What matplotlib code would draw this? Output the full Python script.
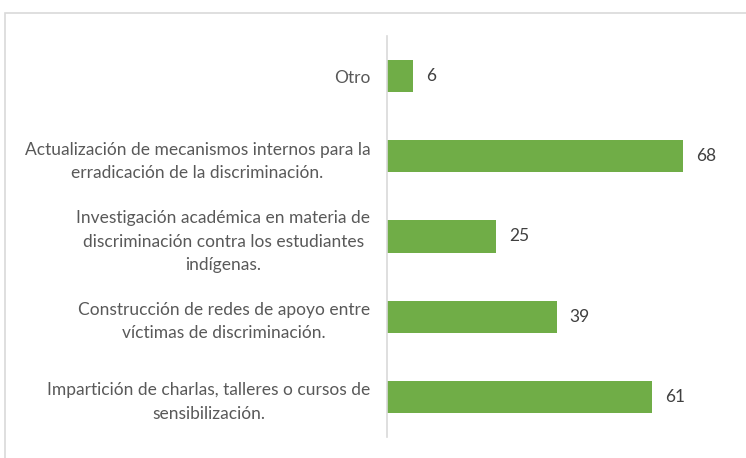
import matplotlib.pyplot as plt
from matplotlib.patches import Rectangle

categories = [
    'Impartición de charlas, talleres o cursos de\nsensibilización.',
    'Construcción de redes de apoyo entre\nvíctimas de discriminación.',
    'Investigación académica en materia de\ndiscriminación contra los estudiantes\nindígenas.',
    'Actualización de mecanismos internos para la\nerradicación de la discriminación.',
    'Otro',
]
values = [61, 39, 25, 68, 6]

plt.rcParams['font.family'] = ['Lato', 'DejaVu Sans']

fig = plt.figure(figsize=(7.46, 4.58), dpi=100)
ax = fig.add_axes([387 / 746, 1 - 437 / 458, 348 / 746, 401 / 458])

pos = range(len(values))
ax.barh(pos, values, height=0.4, color='#70AD47')
for y, v in zip(pos, values):
    ax.text(v + 3.0, y, str(v), va='center', ha='left', fontsize=12.5, color='#404040')

ax.set_xlim(0, 80)
ax.set_ylim(-0.5, len(values) - 0.5)
ax.set_yticks(list(pos))
ax.set_yticklabels(categories, fontsize=12.5, color='#595959', multialignment='center', linespacing=1.55)
ax.tick_params(axis='y', length=0, pad=12)
ax.set_xticks([])
for s in ['top', 'right', 'bottom']:
    ax.spines[s].set_visible(False)
ax.spines['left'].set_color('#D9D9D9')
ax.spines['left'].set_linewidth(1.2)

# outer chart frame
fig.patches.append(Rectangle((5 / 746, -0.1), 1.2, 1 - 13 / 458 + 0.1, transform=fig.transFigure,
                             fill=False, edgecolor='#D9D9D9', linewidth=1.2))

fig.savefig('out.png', dpi=100)
